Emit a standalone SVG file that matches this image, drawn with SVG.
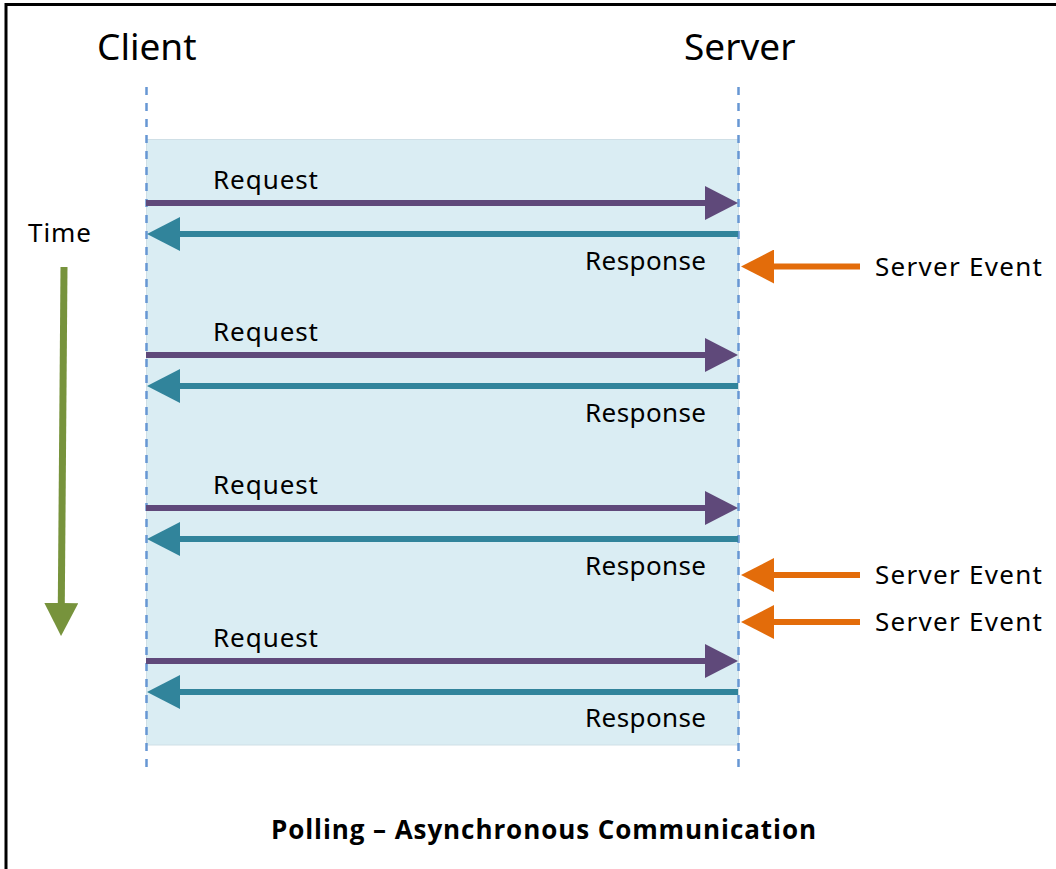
<svg xmlns="http://www.w3.org/2000/svg" width="1056" height="869" viewBox="0 0 1056 869">
  <style>
    .lbl { font-family: "Noto Sans", "Open Sans", "DejaVu Sans", sans-serif; fill: #000; }
    .hdr { font-size: 37px; }
    .msg { font-size: 26px; }
    .title { font-family: "Open Sans", "Noto Sans", sans-serif; font-weight: bold; font-size: 26px; fill: #000; }
    .life { stroke: #6797d3; stroke-width: 2.5; stroke-dasharray: 8 8; fill: none; }
    .req { stroke: #5f497a; stroke-width: 6; fill: none; }
    .resp { stroke: #31849b; stroke-width: 6; fill: none; }
    .evt { stroke: #e36c0a; stroke-width: 6; fill: none; }
    .time { stroke: #77933c; stroke-width: 7; fill: none; }
  </style>
  <defs>
    <marker id="hReq" markerUnits="userSpaceOnUse" markerWidth="34" markerHeight="34" refX="1" refY="17" orient="auto" viewBox="0 0 34 34">
      <path d="M0,0 L33,17 L0,34 z" fill="#5f497a"/>
    </marker>
    <marker id="hResp" markerUnits="userSpaceOnUse" markerWidth="34" markerHeight="34" refX="1" refY="17" orient="auto" viewBox="0 0 34 34">
      <path d="M0,0 L33,17 L0,34 z" fill="#31849b"/>
    </marker>
    <marker id="hEvt" markerUnits="userSpaceOnUse" markerWidth="34" markerHeight="34" refX="1" refY="17" orient="auto" viewBox="0 0 34 34">
      <path d="M0,0 L33,17 L0,34 z" fill="#e36c0a"/>
    </marker>
    <marker id="hTime" markerUnits="userSpaceOnUse" markerWidth="34" markerHeight="34" refX="1" refY="17" orient="auto" viewBox="0 0 34 34">
      <path d="M0,0 L33,17 L0,34 z" fill="#77933c"/>
    </marker>
  </defs>

  <rect x="0" y="0" width="1056" height="869" fill="#ffffff"/>
  <path d="M6,869 V4.5 H1056" fill="none" stroke="#000" stroke-width="3"/>

  <g id="frame">
    <rect x="146.5" y="139.5" width="592" height="605.5" fill="#daedf3" stroke="#cfdfe6" stroke-width="1"/>
  </g>

  <g id="client">
    <text class="lbl hdr" x="97" y="60">Client</text>
    <line class="life" x1="146.5" y1="87" x2="146.5" y2="773"/>
  </g>
  <g id="server">
    <text class="lbl hdr" x="684" y="60">Server</text>
    <line class="life" x1="738.5" y1="87" x2="738.5" y2="773"/>
  </g>

  <g id="time">
    <text class="lbl msg" x="28" y="242" textLength="63">Time</text>
  </g>

  <g id="connectors">
    <path class="time" d="M64,267 L61.3,604" marker-end="url(#hTime)"/>

    <path class="req" d="M146,203 H706" marker-end="url(#hReq)"/>
    <path class="resp" d="M738,234 H179" marker-end="url(#hResp)"/>
    <path class="req" d="M146,355 H706" marker-end="url(#hReq)"/>
    <path class="resp" d="M738,386 H179" marker-end="url(#hResp)"/>
    <path class="req" d="M146,508 H706" marker-end="url(#hReq)"/>
    <path class="resp" d="M738,539 H179" marker-end="url(#hResp)"/>
    <path class="req" d="M146,661 H706" marker-end="url(#hReq)"/>
    <path class="resp" d="M738,692 H179" marker-end="url(#hResp)"/>

    <path class="evt" d="M860,266.5 H773" marker-end="url(#hEvt)"/>
    <path class="evt" d="M860,575 H773" marker-end="url(#hEvt)"/>
    <path class="evt" d="M860,622 H773" marker-end="url(#hEvt)"/>
  </g>

  <g id="labels">
    <text class="lbl msg" x="213" y="189" textLength="105">Request</text>
    <text class="lbl msg" x="585" y="270" textLength="121">Response</text>
    <text class="lbl msg" x="213" y="341" textLength="105">Request</text>
    <text class="lbl msg" x="585" y="422" textLength="121">Response</text>
    <text class="lbl msg" x="213" y="494" textLength="105">Request</text>
    <text class="lbl msg" x="585" y="575" textLength="121">Response</text>
    <text class="lbl msg" x="213" y="647" textLength="105">Request</text>
    <text class="lbl msg" x="585" y="727" textLength="121">Response</text>
  </g>

  <g id="events">
    <text class="lbl msg" x="875" y="276" textLength="167">Server Event</text>
    <text class="lbl msg" x="875" y="584" textLength="167">Server Event</text>
    <text class="lbl msg" x="875" y="631" textLength="167">Server Event</text>
  </g>

  <g id="caption">
    <text class="title" x="271" y="839" textLength="545">Polling – Asynchronous Communication</text>
  </g>
</svg>
